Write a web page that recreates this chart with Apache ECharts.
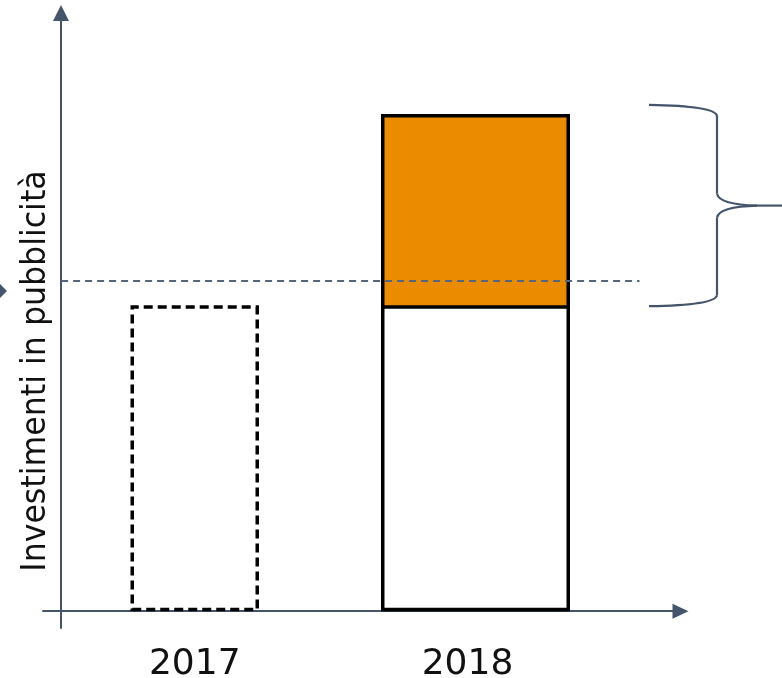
<!DOCTYPE html>
<html><head><meta charset="utf-8">
<script src="https://cdn.jsdelivr.net/npm/echarts@6/dist/echarts.min.js"></script>
<style>html,body{margin:0;padding:0;background:#fff}#c{width:782px;height:678px}</style>
</head><body><div id="c"></div>
<script>
// ---- data ----
const years = [2017, 2018];
const yearLabels = ['2017', '2018'];
const value2017 = [100];          // dashed bar 2017
const base2018 = [100];           // white base of 2018
const increment2018 = [62.5];     // orange increment on top
const referenceLevel = [108];     // dashed reference line
const axisTitle = 'Investimenti in pubblicità';

// ---- layout/style ----
const AX = '#44546A';
const X_MIN = 2016.4595, X_MAX = 2018.7302;
const Y_MIN = -5.5, Y_MAX = 195.5;

const chart = echarts.init(document.getElementById('c'), null, {renderer: 'canvas'});

const total2018 = [base2018[0] + increment2018[0]];

const hiddenX = {type: 'value', min: X_MIN, max: X_MAX, show: false};

const option = {
  animation: false,
  backgroundColor: '#ffffff',
  grid: {left: 43, right: 101.5, top: 13, bottom: 50, containLabel: false, outerBoundsMode: 'none'},
  xAxis: [{
    type: 'value', min: X_MIN, max: X_MAX,
    splitLine: {show: false}, axisTick: {show: false},
    axisLine: {onZero: true, lineStyle: {color: AX, width: 2}, symbol: ['none', 'triangle'], symbolSize: [15, 16]},
    axisLabel: {
      customValues: years,
      formatter: function (v) {
        const i = years.indexOf(Math.round(v));
        if (i < 0) return '';
        return i === 1 ? '{s|' + yearLabels[i] + '}' : yearLabels[i];
      },
      rich: {s: {padding: [0, 16, 0, 0], color: '#111', fontSize: 36, fontFamily: 'DejaVu Sans'}},
      color: '#111', fontSize: 36, fontFamily: 'DejaVu Sans', margin: 19
    }
  }, hiddenX, Object.assign({}, hiddenX)],
  yAxis: {
    type: 'value', min: Y_MIN, max: Y_MAX, offset: -18,
    splitLine: {show: false}, axisTick: {show: false}, axisLabel: {show: false},
    axisLine: {onZero: false, lineStyle: {color: AX, width: 2}, symbol: ['none', 'triangle'], symbolSize: [16, 16]}
  },
  series: [{
    type: 'bar', name: '2017', xAxisIndex: 0, yAxisIndex: 0, barWidth: 128.5,
    data: [[years[0], value2017[0]]],
    itemStyle: {color: '#ffffff', borderColor: '#000', borderWidth: 3.5, borderType: [9, 5]},
    silent: true
  }, {
    type: 'bar', name: '2018 increment', xAxisIndex: 1, yAxisIndex: 0, barWidth: 189,
    data: [[years[1], total2018[0]]],
    itemStyle: {color: '#EB8C00', borderColor: '#000', borderWidth: 3.5},
    silent: true
  }, {
    type: 'bar', name: '2018 base', xAxisIndex: 2, yAxisIndex: 0, barWidth: 189,
    data: [[years[1], base2018[0]]],
    itemStyle: {color: '#ffffff', borderColor: '#000', borderWidth: 3.5},
    silent: true,
    markLine: {
      silent: true, symbol: ['none', 'none'], label: {show: false}, z: 10,
      lineStyle: {color: '#56657C', width: 2, type: [7, 5]},
      data: [[{coord: [2016.524, referenceLevel[0]]}, {coord: [2018.584, referenceLevel[0]]}]]
    }
  }]
};
chart.setOption(option);

// brace derived from the data scale
const yTop = chart.convertToPixel({yAxisIndex: 0}, total2018[0]) - 9;
const yBot = chart.convertToPixel({yAxisIndex: 0}, base2018[0]) + 1;
const yMid = (yTop + yBot) / 2;
const t = yTop, b = yBot, m = yMid;
const ls = {stroke: AX, lineWidth: 2.2, fill: null};
const braceParts = [
  {type: 'bezierCurve', shape: {x1: 649, y1: t, cpx1: 715, cpy1: t + 1, x2: 717, y2: t + 11}},
  {type: 'line', shape: {x1: 717, y1: t + 11, x2: 717, y2: m - 12}},
  {type: 'bezierCurve', shape: {x1: 717, y1: m - 12, cpx1: 719, cpy1: m - 1, x2: 757, y2: m}},
  {type: 'line', shape: {x1: 757, y1: m, x2: 782, y2: m}},
  {type: 'bezierCurve', shape: {x1: 757, y1: m, cpx1: 719, cpy1: m + 1, x2: 717, y2: m + 12}},
  {type: 'line', shape: {x1: 717, y1: m + 12, x2: 717, y2: b - 11}},
  {type: 'bezierCurve', shape: {x1: 717, y1: b - 11, cpx1: 715, cpy1: b - 1, x2: 649, y2: b}}
].map(function (p) { return Object.assign(p, {silent: true, style: Object.assign({}, ls)}); });

chart.setOption({
  graphic: braceParts.concat([
    {type: 'polygon', silent: true, shape: {points: [[0, 284], [7, 291], [0, 298]]}, style: {fill: AX}},
    {type: 'text', silent: true, x: 36, y: 371, rotation: Math.PI / 2, scaleX: 0.93,
     style: {text: axisTitle, fontSize: 34, fontFamily: 'DejaVu Sans', fill: '#111', align: 'center', verticalAlign: 'middle'}}
  ])
});
</script></body></html>
